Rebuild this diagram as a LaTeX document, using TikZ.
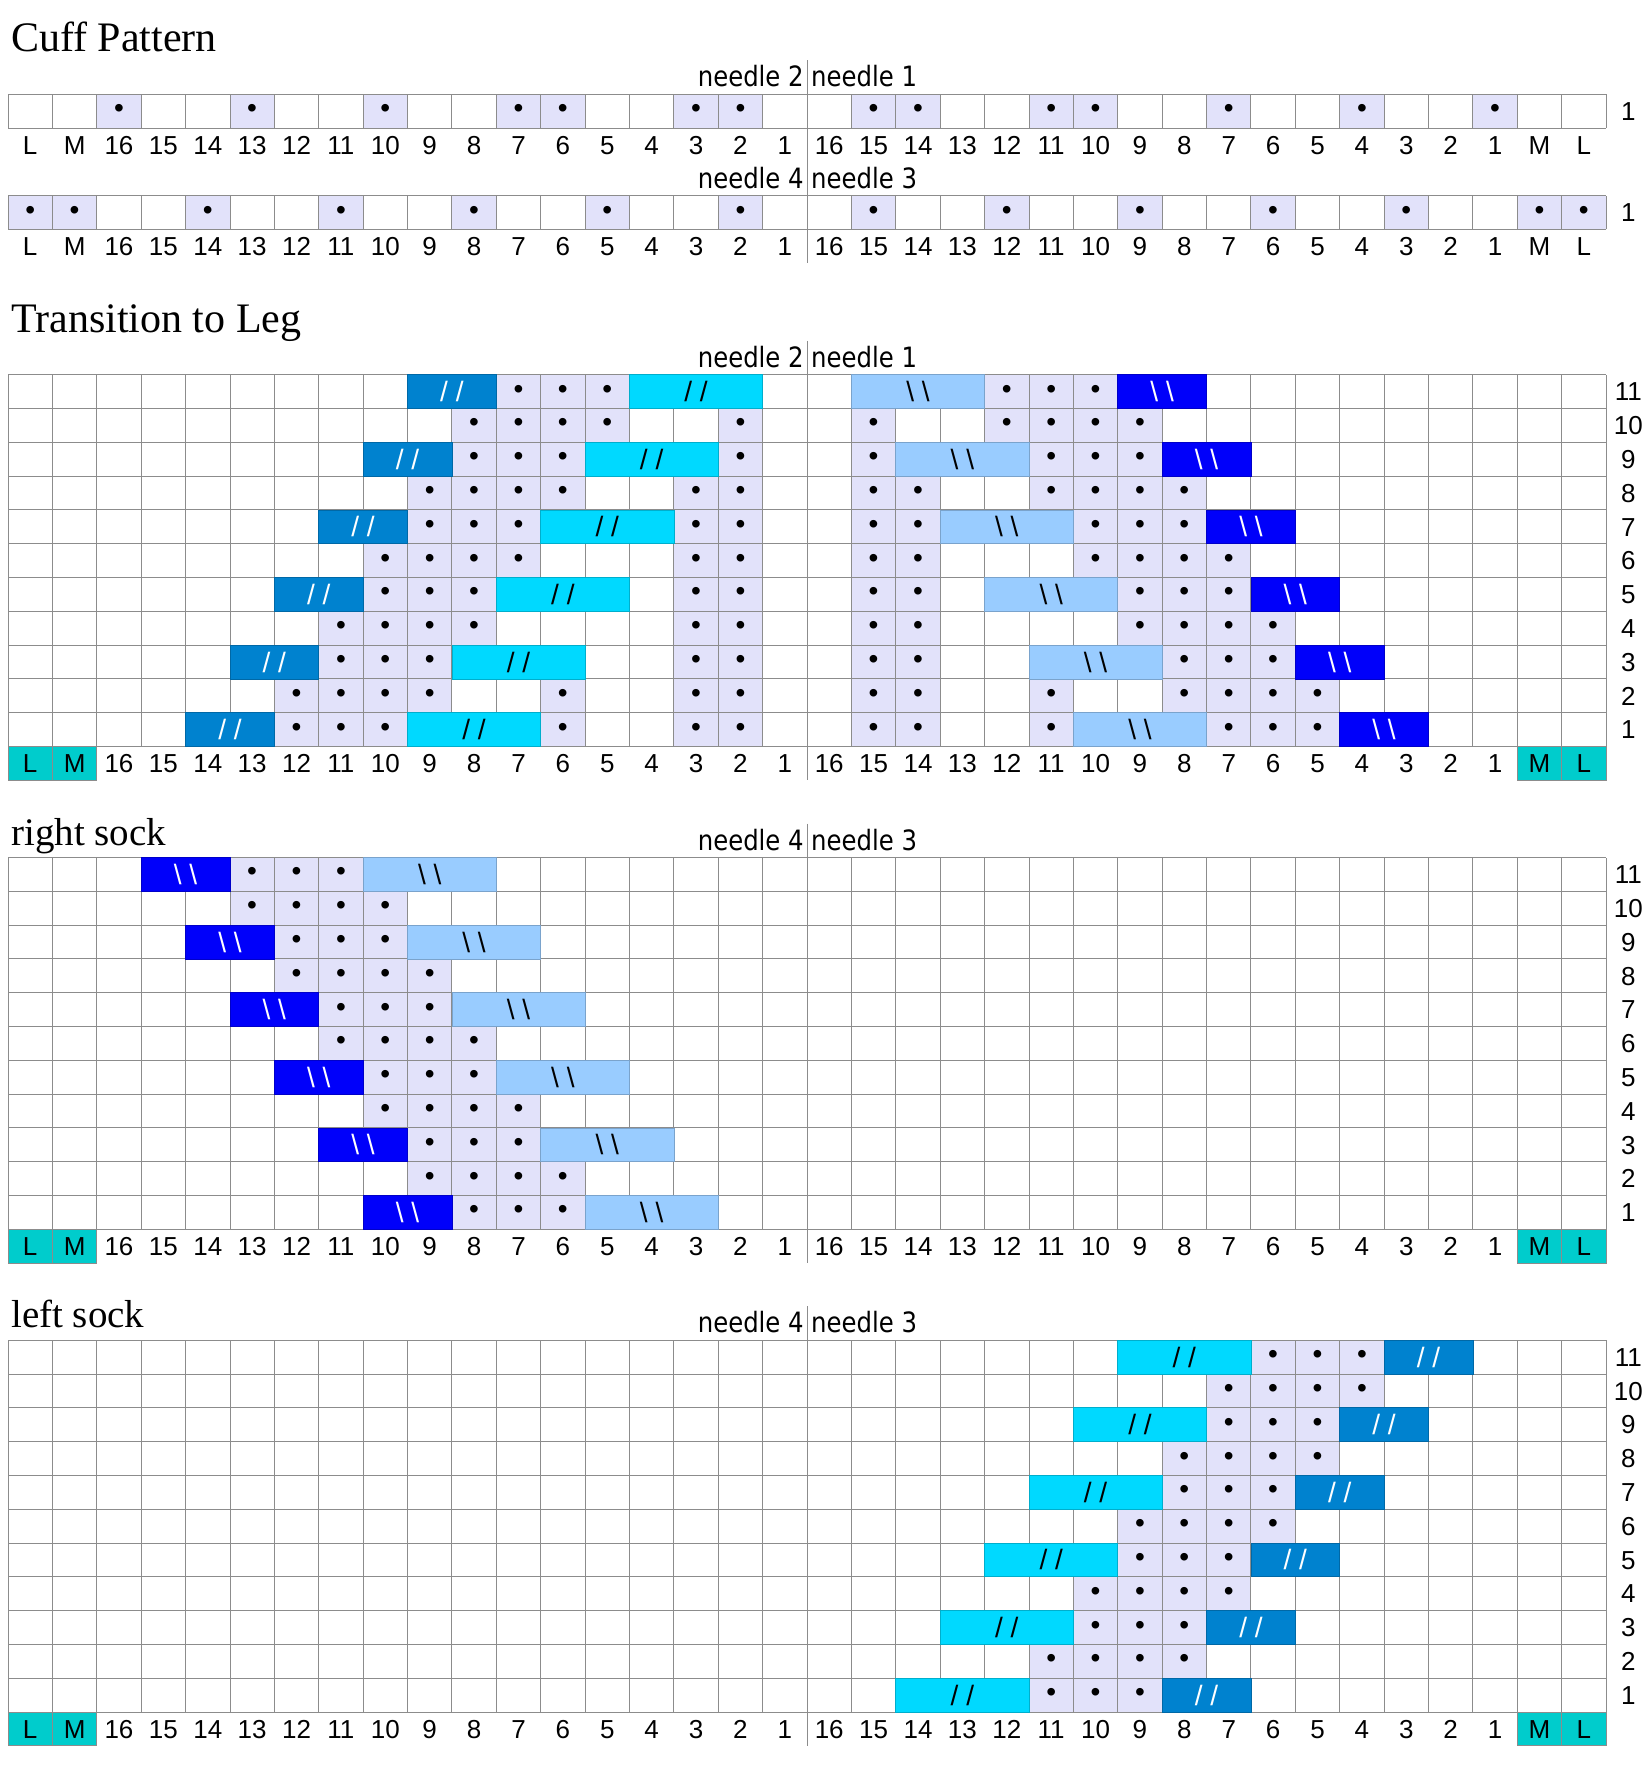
\documentclass[tikz,border=0pt]{standalone}
\usepackage{fontspec}
\setmainfont{Liberation Sans}
\newfontfamily\needlefont[FakeStretch=0.87]{DejaVu Sans}
\newfontfamily\titlefont{Liberation Serif}
\definecolor{chartGrid}{RGB}{140,140,140}
\definecolor{purlLavender}{RGB}{226,226,250}
\definecolor{cableDark}{RGB}{0,130,207}
\definecolor{cableCyan}{RGB}{0,217,255}
\definecolor{cableLight}{RGB}{153,204,255}
\definecolor{cableBlue}{RGB}{0,0,250}
\definecolor{edgeTeal}{RGB}{0,204,204}

\newcommand{\stitchlabels}{L,M,16,15,14,13,12,11,10,9,8,7,6,5,4,3,2,1,16,15,14,13,12,11,10,9,8,7,6,5,4,3,2,1,M,L}
\newcommand{\chartgrid}[1]{%
  \foreach \cx in {0,...,36} \draw[gridline] (\cx,0) -- (\cx,#1);
  \foreach \ry in {0,...,#1} \draw[gridline] (0,\ry) -- (36,\ry);}
\newcommand{\stitchrow}[1]{%
  \foreach \lab [count=\cx] in \stitchlabels
    \node[numlab] (#1-s\cx) at (\cx-0.5,-0.5) {\lab};}
\newcommand{\edgecells}[1]{%
  \foreach \cx in {1,2,35,36}
    \node[edgecell] (#1-e\cx) at (\cx-0.5,-0.5) {};}
\newcommand{\rownumbers}[2]{%
  \foreach \ry in {1,...,#2}
    \node[numlab] (#1-r\ry) at (36.5,\ry-0.5) {\ry};}
\newcommand{\needles}[4]{%
  \node[needlelab, anchor=base east] (#1-nl) at (17.93,#2+0.22) {#3};
  \node[needlelab, anchor=base west] (#1-nr) at (18.09,#2+0.22) {#4};
  \draw[gridline] (18,#2+1) -- (18,-1);}

\begin{document}
\begin{tikzpicture}[
  x=44.39pt, y=33.8pt,
  gridline/.style={draw=chartGrid, line width=0.9pt},
  cell/.style={minimum width=44.39pt, minimum height=33.8pt, inner sep=0pt, outer sep=0pt},
  cells/.style={minimum width=#1*44.39pt},
  purl/.style={cell, fill=purlLavender, font=\fontsize{28}{28}\selectfont},
  cable/.style={cell, fill=#1, draw=#1!80!black, line width=0.7pt,
                text height=20pt, text depth=0pt, font=\fontsize{28}{28}\selectfont},
  edgecell/.style={cell, fill=edgeTeal, draw=chartGrid, line width=0.9pt},
  numlab/.style={inner sep=0pt, text height=18.5pt, text depth=0pt, font=\fontsize{26}{26}\selectfont},
  needlelab/.style={inner sep=0pt, font=\needlefont\fontsize{28}{28}\selectfont},
  title/.style={inner sep=0pt, anchor=base west, font=\titlefont\fontsize{42}{42}\selectfont},
  subtitle/.style={title, font=\titlefont\fontsize{39}{39}\selectfont}
]
\useasboundingbox (0pt,0pt) rectangle (1647pt,-1776pt);
\fill[white] (0pt,0pt) rectangle (1647pt,-1776pt);

\node[title] (cuff) at (11pt,-52pt) {Cuff Pattern};
\node[title] (transition) at (11pt,-333pt) {Transition to Leg};
\node[subtitle] (right) at (11pt,-845pt) {right sock};
\node[subtitle] (left) at (11pt,-1327pt) {left sock};

\begin{scope}[shift={(8pt,-128pt)}]
  \foreach \cx in {3,6,9,12,13,16,17,20,21,24,25,28,31,34}
    \node[purl] (ca-p\cx) at (\cx-0.5,0.5) {•};
  \chartgrid{1}
  \stitchrow{ca}
  \node[numlab] (ca-r1) at (36.5,0.5) {1};
  \needles{ca}{1}{needle 2}{needle 1}
\end{scope}

\begin{scope}[shift={(8pt,-229.5pt)}]
  \foreach \cx in {1,2,5,8,11,14,17,20,23,26,29,32,35,36}
    \node[purl] (cb-p\cx) at (\cx-0.5,0.5) {•};
  \chartgrid{1}
  \stitchrow{cb}
  \node[numlab] (cb-r1) at (36.5,0.5) {1};
  \needles{cb}{1}{needle 4}{needle 3}
\end{scope}

\begin{scope}[shift={(8pt,-746.5pt)}]
  \foreach \ry in {1,...,10} {
    \node[purl] (tr-a\ry) at (16.5,\ry-0.5) {•};
    \node[purl] (tr-b\ry) at (19.5,\ry-0.5) {•};}
  \foreach \ry in {1,...,8} {
    \node[purl] (tr-c\ry) at (15.5,\ry-0.5) {•};
    \node[purl] (tr-d\ry) at (20.5,\ry-0.5) {•};}
  \foreach \ry in {1,2} {
    \node[purl] (tr-e\ry) at (12.5,\ry-0.5) {•};
    \node[purl] (tr-f\ry) at (23.5,\ry-0.5) {•};}
  \foreach \kk in {0,...,5}
    \foreach \dd in {0,1,2} {
      \node[purl] (tr-p\kk\dd) at (11.5-\kk+\dd,10.5-2*\kk) {•};
      \node[purl] (tr-q\kk\dd) at (22.5+\kk+\dd,10.5-2*\kk) {•};}
  \foreach \kk in {0,...,4}
    \foreach \dd in {0,...,3} {
      \node[purl] (tr-m\kk\dd) at (10.5-\kk+\dd,9.5-2*\kk) {•};
      \node[purl] (tr-n\kk\dd) at (22.5+\kk+\dd,9.5-2*\kk) {•};}
  \chartgrid{11}
  \foreach \kk in {0,...,5} {
    \node[cable=cableDark, text=white, cells=2] (tr-l\kk) at (10-\kk,10.5-2*\kk) {/ /};
    \node[cable=cableCyan, cells=3] (tr-lc\kk) at (15.5-\kk,10.5-2*\kk) {/ /};
    \node[cable=cableLight, cells=3] (tr-rc\kk) at (20.5+\kk,10.5-2*\kk) {\textbackslash\ \textbackslash};
    \node[cable=cableBlue, text=white, cells=2] (tr-r\kk) at (26+\kk,10.5-2*\kk) {\textbackslash\ \textbackslash};}
  \edgecells{tr}
  \stitchrow{tr}
  \rownumbers{tr}{11}
  \needles{tr}{11}{needle 2}{needle 1}
\end{scope}

\begin{scope}[shift={(8pt,-1229.3pt)}]
  \foreach \kk in {0,...,5}
    \foreach \dd in {0,1,2}
      \node[purl] (rs-p\kk\dd) at (5.5+\kk+\dd,10.5-2*\kk) {•};
  \foreach \kk in {0,...,4}
    \foreach \dd in {0,...,3}
      \node[purl] (rs-m\kk\dd) at (5.5+\kk+\dd,9.5-2*\kk) {•};
  \chartgrid{11}
  \foreach \kk in {0,...,5} {
    \node[cable=cableBlue, text=white, cells=2] (rs-b\kk) at (4+\kk,10.5-2*\kk) {\textbackslash\ \textbackslash};
    \node[cable=cableLight, cells=3] (rs-c\kk) at (9.5+\kk,10.5-2*\kk) {\textbackslash\ \textbackslash};}
  \edgecells{rs}
  \stitchrow{rs}
  \rownumbers{rs}{11}
  \needles{rs}{11}{needle 4}{needle 3}
\end{scope}

\begin{scope}[shift={(8pt,-1712pt)}]
  \foreach \kk in {0,...,5}
    \foreach \dd in {0,1,2}
      \node[purl] (ls-p\kk\dd) at (28.5-\kk+\dd,10.5-2*\kk) {•};
  \foreach \kk in {0,...,4}
    \foreach \dd in {0,...,3}
      \node[purl] (ls-m\kk\dd) at (27.5-\kk+\dd,9.5-2*\kk) {•};
  \chartgrid{11}
  \foreach \kk in {0,...,5} {
    \node[cable=cableCyan, cells=3] (ls-c\kk) at (26.5-\kk,10.5-2*\kk) {/ /};
    \node[cable=cableDark, text=white, cells=2] (ls-d\kk) at (32-\kk,10.5-2*\kk) {/ /};}
  \edgecells{ls}
  \stitchrow{ls}
  \rownumbers{ls}{11}
  \needles{ls}{11}{needle 4}{needle 3}
\end{scope}
\end{tikzpicture}
\end{document}
